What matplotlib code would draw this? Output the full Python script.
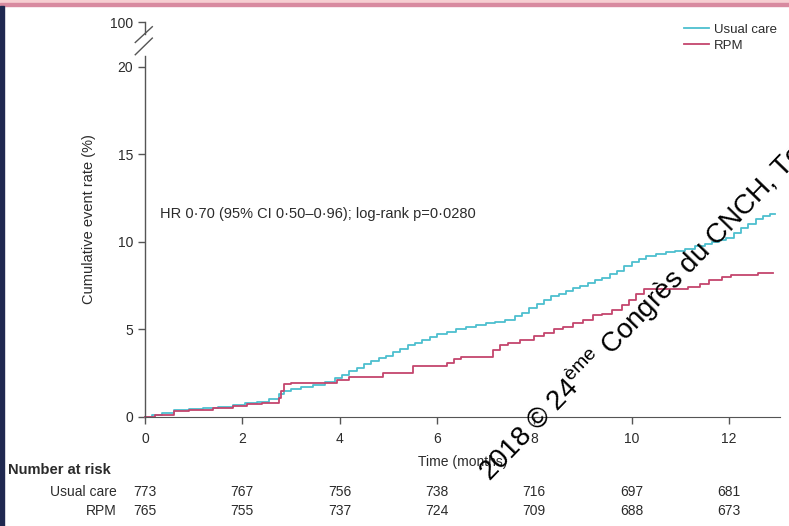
import matplotlib
matplotlib.use('Agg')
from matplotlib import pyplot as plt
from matplotlib.lines import Line2D
from matplotlib.patches import Rectangle

# cumulative event rate (%), step functions
usual_t = [0, 0.15, 0.35, 0.6, 0.9, 1.2, 1.5, 1.8, 2.05, 2.3, 2.55, 2.75, 2.85, 3.0, 3.2,
           3.45, 3.7, 3.9, 4.05, 4.2, 4.35, 4.5, 4.65, 4.8, 4.95, 5.1, 5.25, 5.4, 5.55,
           5.7, 5.85, 6.0, 6.2, 6.4, 6.6, 6.8, 7.0, 7.2, 7.4, 7.6, 7.75, 7.9, 8.05, 8.2,
           8.35, 8.5, 8.65, 8.8, 8.95, 9.1, 9.25, 9.4, 9.55, 9.7, 9.85, 10.0, 10.15, 10.3,
           10.5, 10.7, 10.9, 11.1, 11.3, 11.5, 11.65, 11.8, 11.95, 12.1, 12.25, 12.4,
           12.55, 12.7, 12.85, 12.95]
usual_y = [0, 0.1, 0.2, 0.4, 0.45, 0.5, 0.55, 0.7, 0.8, 0.85, 1.0, 1.3, 1.5, 1.6, 1.7,
           1.85, 2.0, 2.2, 2.4, 2.6, 2.8, 3.0, 3.2, 3.35, 3.5, 3.7, 3.9, 4.1, 4.25,
           4.4, 4.55, 4.75, 4.85, 5.0, 5.15, 5.25, 5.35, 5.45, 5.55, 5.75, 5.95, 6.2, 6.45, 6.7,
           6.9, 7.05, 7.2, 7.35, 7.5, 7.65, 7.8, 7.95, 8.15, 8.35, 8.6, 8.85, 9.05, 9.2,
           9.3, 9.4, 9.5, 9.6, 9.75, 9.9, 10.0, 10.1, 10.2, 10.5, 10.8, 11.0,
           11.3, 11.5, 11.6, 11.6]

rpm_t = [0, 0.2, 0.6, 0.9, 1.4, 1.8, 2.1, 2.4, 2.75, 2.8, 2.85, 3.0, 3.95, 4.2, 4.9, 5.5,
         6.2, 6.35, 6.5, 7.15, 7.3, 7.45, 7.7, 8.0, 8.2, 8.4, 8.6, 8.8, 9.0, 9.2, 9.4,
         9.6, 9.8, 9.95, 10.1, 10.25, 11.15, 11.4, 11.6, 11.85, 12.05, 12.6, 12.9]
rpm_y = [0, 0.1, 0.35, 0.4, 0.5, 0.65, 0.75, 0.8, 1.1, 1.5, 1.9, 1.95, 2.1, 2.3, 2.5, 2.9,
         3.1, 3.3, 3.45, 3.8, 4.1, 4.25, 4.4, 4.6, 4.8, 5.0, 5.15, 5.35, 5.55, 5.8, 5.9,
         6.1, 6.4, 6.7, 7.0, 7.3, 7.4, 7.6, 7.8, 8.0, 8.1, 8.2, 8.2]

risk_times = [0, 2, 4, 6, 8, 10, 12]
risk_usual = [773, 767, 756, 738, 716, 697, 681]
risk_rpm = [765, 755, 737, 724, 709, 688, 673]

CYAN = '#4dbfcf'
RED = '#c4456d'
TXT = '#2b2b2b'
plt.rcParams['font.family'] = ['Liberation Sans', 'DejaVu Sans']
plt.rcParams['mathtext.fontset'] = 'custom'
plt.rcParams['mathtext.rm'] = 'Liberation Sans'
FS = 10

fig = plt.figure(figsize=(7.89, 5.26), dpi=100)
W, H = 789, 526

# frame decorations of the slide
fig.patches.append(Rectangle((0, 1 - 3 / H), 1, 3 / H, transform=fig.transFigure, color='#f6cfd2', zorder=0))
fig.patches.append(Rectangle((0, 1 - 6 / H), 1, 3 / H, transform=fig.transFigure, color='#d88aa0', zorder=0))
fig.patches.append(Rectangle((0, 0), 4 / W, 1 - 6 / H, transform=fig.transFigure, color='#1f2850', zorder=0))

ax = fig.add_axes([145 / W, 109 / H, 635 / W, 395 / H])
ax.set_facecolor('none')
ax.step(usual_t, usual_y, where='post', color=CYAN, lw=1.3, label='Usual care', clip_on=False)
ax.step(rpm_t, rpm_y, where='post', color=RED, lw=1.3, label='RPM', clip_on=False)

ax.set_xlim(0, 13.05)
ax.set_ylim(0, 22.57)
ax.set_xticks([0, 2, 4, 6, 8, 10, 12])
ax.set_yticks([0, 5, 10, 15, 20, 22.57])
ax.set_yticklabels(['0', '5', '10', '15', '20', '100'])
ax.tick_params(colors='#555555', labelcolor=TXT, labelsize=FS, length=5, width=1)
ax.tick_params(axis='x', pad=6)
ax.set_xlabel('Time (months)', fontsize=FS, color=TXT, labelpad=6)
ax.set_ylabel('Cumulative event rate (%)', fontsize=10.5, color=TXT, labelpad=10)

for s in ['top', 'right', 'left']:
    ax.spines[s].set_visible(False)
ax.spines['bottom'].set_color('#555555')

# broken y axis
spine_kw = dict(color='#555555', lw=1, clip_on=False)
ax.plot([0, 0], [0, 20.6], **spine_kw)
ax.plot([0, 0], [21.9, 22.57], **spine_kw)
ax.plot([-0.2, 0.15], [20.7, 21.65], **spine_kw)
ax.plot([-0.2, 0.15], [21.4, 22.3], **spine_kw)

ax.text(0.3, 11.6, 'HR 0·70 (95% CI 0·50–0·96); log-rank p=0·0280', fontsize=10.5, color=TXT, va='center')

handles = [Line2D([], [], color=CYAN, lw=1.3), Line2D([], [], color=RED, lw=1.3)]
fig.legend(handles, ['Usual care', 'RPM'], loc='upper left', bbox_to_anchor=(672 / W, 1 - 12 / H),
           frameon=False, fontsize=9.5, handlelength=1.9, handletextpad=0.4, labelspacing=0.25,
           labelcolor=TXT)

# number at risk table
fig.text(8 / W, 1 - 470 / H, 'Number at risk', fontsize=10.5, fontweight='bold', color=TXT, va='center')
fig.text(117 / W, 1 - 492 / H, 'Usual care', fontsize=FS, color=TXT, va='center', ha='right')
fig.text(117 / W, 1 - 511 / H, 'RPM', fontsize=FS, color=TXT, va='center', ha='right')
for t, u, r in zip(risk_times, risk_usual, risk_rpm):
    xf = (145 + t * 635 / 13.05) / W
    fig.text(xf, 1 - 492 / H, str(u), fontsize=FS, color=TXT, va='center', ha='center')
    fig.text(xf, 1 - 511 / H, str(r), fontsize=FS, color=TXT, va='center', ha='center')

# congress watermark (runs off the right edge as in the slide)
fig.text(490 / W, 1 - 482 / H, '2018 © 24$^{\\mathrm{ème}}$ Congrès du CNCH, To', fontsize=20, color='black',
         rotation=46, rotation_mode='anchor', ha='left', va='baseline')

fig.savefig('out.png', dpi=100)
